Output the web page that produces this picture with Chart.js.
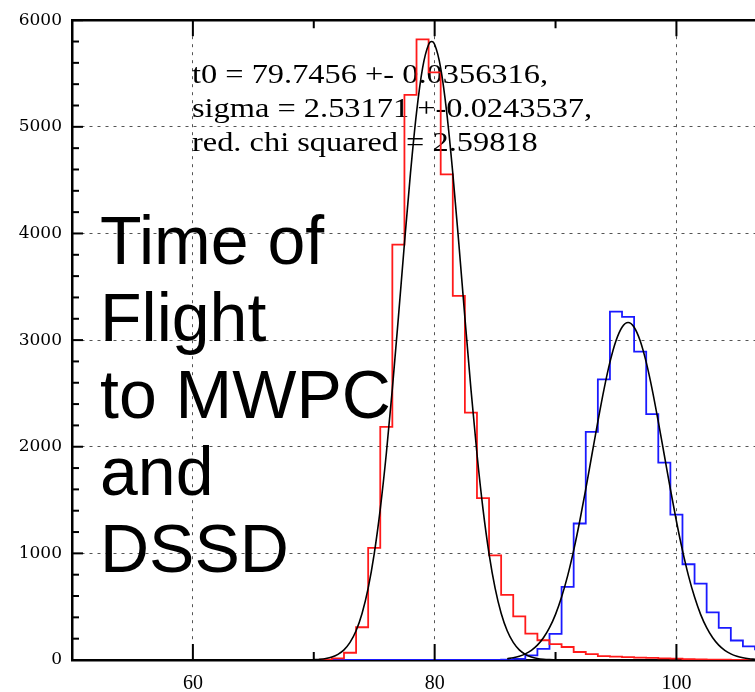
<!DOCTYPE html>
<html lang="en">
<head>
  <meta charset="UTF-8">
  <title>Time of Flight to MWPC and DSSD</title>
  <script src="https://cdn.jsdelivr.net/npm/chart.js"></script>
  <style>
    html, body { margin: 0; padding: 0; background: #fff; }
    #wrap { width: 755px; height: 692px; }
  </style>
</head>
<body>
  <div id="wrap"><canvas id="chart" width="755" height="692"></canvas></div>

  <script>
    // histogram bins (bin centre, width 1)
    const binCenters = [70, 71, 72, 73, 74, 75, 76, 77, 78, 79, 80, 81, 82, 83, 84, 85, 86, 87, 88,
                        89, 90, 91, 92, 93, 94, 95, 96, 97, 98, 99, 100, 101, 102, 103, 104, 105, 106, 107];
    const redCounts = [0, 3, 15, 68, 307, 1052, 2187, 3895, 5299, 5821, 5511, 4554, 3414, 2320, 1518, 981, 610, 410, 248,
                       185, 148, 122, 75, 55, 36, 32, 27, 22, 20, 16, 12, 9, 6, 4, 3, 2, 1, 1];
    const blueCounts = [0, 0, 0, 0, 0, 0, 0, 0, 0, 0, 0, 0, 0, 0, 0, 1, 3, 10, 43,
                        105, 245, 686, 1280, 2140, 2631, 3267, 3218, 2892, 2305, 1851, 1363, 898, 717, 446, 301, 183, 127, 100];

    // fitted curves
    const fit1X = [70, 70.5, 71, 71.5, 72, 72.5, 73, 73.5, 74, 74.5, 75, 75.5, 76, 76.5, 77, 77.5, 78, 78.5, 79, 79.5,
                   79.75, 80, 80.5, 81, 81.5, 82, 82.5, 83, 83.5, 84, 84.5, 85, 85.5, 86, 86.5, 87, 87.5, 88, 88.5, 89, 89.5, 90];
    const fit1Y = [3.5, 7.3, 14.7, 28.5, 53.2, 95.6, 165, 274, 438, 674, 996, 1415, 1934, 2542, 3213, 3906, 4566, 5134, 5551, 5772,
                   5800, 5772, 5551, 5134, 4566, 3906, 3213, 2542, 1934, 1415, 996, 674, 438, 274, 165, 95.6, 53.2, 28.5, 14.7, 7.3, 3.5, 1.6];
    const fit2X = [86, 86.5, 87, 87.5, 88, 88.5, 89, 89.5, 90, 90.5, 91, 91.5, 92, 92.5, 93, 93.5, 94, 94.5, 95, 95.5,
                   96, 96.5, 97, 97.5, 98, 98.5, 99, 99.5, 100, 100.5, 101, 101.5, 102, 102.5, 103, 103.5, 104, 104.5, 105, 105.5, 106, 106.5];
    const fit2Y = [12.2, 21, 35.2, 57.2, 90.4, 139, 208, 303, 428, 590, 789, 1028, 1301, 1602, 1920, 2236, 2534, 2793, 2994, 3121,
                   3165, 3121, 2994, 2793, 2534, 2236, 1920, 1602, 1301, 1028, 789, 590, 428, 303, 208, 139, 90.4, 57.2, 35.2, 21, 12.2, 6.9];

    const xTickValues = [60, 80, 100];
    const yTickStep = 1000;

    const fitText = [
      't0 = 79.7456 +- 0.0356316,',
      'sigma = 2.53171 +-0.0243537,',
      'red. chi squared = 2.59818'
    ];
    const titleLines = ['Time of', 'Flight', 'to MWPC', 'and', 'DSSD'];

    const pts = (xs, ys) => xs.map((x, i) => ({ x: x, y: ys[i] }));

    // text under the curves, frame + inward ticks on top
    const decor = {
      id: 'decor',
      beforeDatasetsDraw(chart) {
        const ctx = chart.ctx;
        ctx.save();
        ctx.fillStyle = '#000';
        ctx.font = '27px "Liberation Serif"';
        fitText.forEach((t, i) => {
          ctx.save();
          ctx.translate(192, 83 + i * 34);
          ctx.scale(1.2, 1);
          ctx.fillText(t, 0, 0);
          ctx.restore();
        });
        ctx.font = '68px "Liberation Sans"';
        titleLines.forEach((t, i) => ctx.fillText(t, 100, 264 + i * 77));
        ctx.restore();
      },
      afterDraw(chart) {
        const { ctx, chartArea: a, scales: { x, y } } = chart;
        ctx.save();
        ctx.strokeStyle = '#000';
        ctx.lineWidth = 2.5;
        ctx.beginPath();
        ctx.moveTo(a.left, a.top);
        ctx.lineTo(a.right, a.top);
        ctx.stroke();
        ctx.lineWidth = 2;
        for (let v = 0; v <= 6000; v += 200) {
          const py = y.getPixelForValue(v);
          const len = v % 1000 === 0 ? 11 : 7;
          ctx.beginPath();
          ctx.moveTo(a.left, py);
          ctx.lineTo(a.left + len, py);
          ctx.stroke();
        }
        for (let v = 60; v <= 100; v += 10) {
          const px = x.getPixelForValue(v);
          const len = v % 20 === 0 ? 16 : 8;
          ctx.beginPath();
          ctx.moveTo(px, a.bottom);
          ctx.lineTo(px, a.bottom - len);
          ctx.moveTo(px, a.top);
          ctx.lineTo(px, a.top + len);
          ctx.stroke();
        }
        ctx.restore();
      }
    };

    new Chart(document.getElementById('chart'), {
      type: 'line',
      data: {
        datasets: [
          { data: pts(fit1X, fit1Y), borderColor: '#000', borderWidth: 1.6, pointRadius: 0, cubicInterpolationMode: 'monotone' },
          { data: pts(fit2X, fit2Y), borderColor: '#000', borderWidth: 1.6, pointRadius: 0, cubicInterpolationMode: 'monotone' },
          { data: pts(binCenters, redCounts), borderColor: '#ff1a1a', borderWidth: 1.8, pointRadius: 0, stepped: 'middle' },
          { data: pts(binCenters, blueCounts), borderColor: '#1a1aff', borderWidth: 1.8, pointRadius: 0, stepped: 'middle' }
        ]
      },
      options: {
        responsive: false,
        animation: false,
        layout: { padding: { top: 15, right: 0, left: 0, bottom: 0 } },
        plugins: { legend: { display: false }, tooltip: { enabled: false } },
        scales: {
          x: {
            type: 'linear',
            min: 50,
            max: 106.5,
            afterBuildTicks: s => { s.ticks = xTickValues.map(v => ({ value: v })); },
            afterFit: s => { s.height = 32; },
            grid: { color: '#555', lineWidth: 1, drawTicks: false },
            border: { color: '#000', width: 2.5, dash: [3, 5] },
            ticks: { color: '#000', padding: 12, font: { family: 'Liberation Serif', size: 20 }, callback: v => String(v) }
          },
          y: {
            min: 0,
            max: 6000,
            afterFit: s => { s.width = 72; },
            grid: { color: '#555', lineWidth: 1, drawTicks: false },
            border: { color: '#000', width: 2.5, dash: [3, 5] },
            ticks: { stepSize: yTickStep, color: '#000', padding: 10, font: { family: 'DejaVu Serif', size: 17 }, callback: v => String(v) }
          }
        }
      },
      plugins: [decor]
    });
  </script>
</body>
</html>
